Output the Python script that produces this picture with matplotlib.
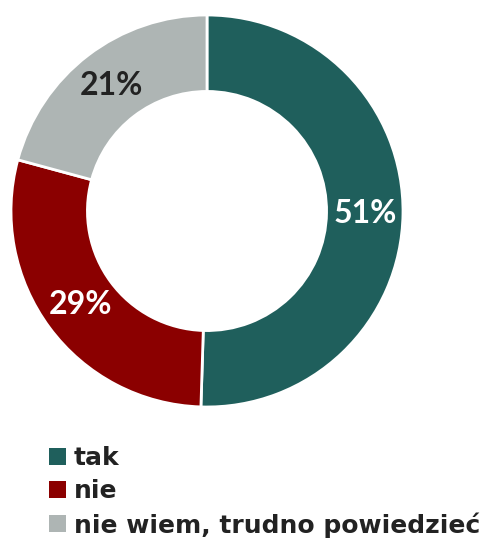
import matplotlib
matplotlib.use("Agg")
import matplotlib.pyplot as plt
from matplotlib.patches import Patch

categories = ["tak", "nie", "nie wiem, trudno powiedzieć"]
values = [51, 29, 21]
labels = ["51%", "29%", "21%"]
colors = ["#1f5f5c", "#8b0000", "#aeb5b4"]
label_colors = ["white", "white", "#222222"]

plt.rcParams['font.family'] = ['Lato', 'DejaVu Sans']

W, H = 482, 538
fig = plt.figure(figsize=(W / 100, H / 100), dpi=100)
ax = fig.add_axes([11 / W, 131 / H, 392 / W, 392 / H])
ax.set_xlim(-1, 1)
ax.set_ylim(-1, 1)
ax.set_aspect('equal')
ax.axis('off')

width = 0.39
wedges, texts = ax.pie(values, colors=colors, startangle=90, counterclock=False,
                       radius=1, labels=labels, labeldistance=1 - width / 2,
                       wedgeprops=dict(width=width, edgecolor='white', linewidth=2),
                       textprops=dict(fontsize=23, fontweight='bold', ha='center', va='center'))
for t, c in zip(texts, label_colors):
    t.set_color(c)
ax.set_xlim(-1, 1)
ax.set_ylim(-1, 1)

handles = [Patch(facecolor=c, edgecolor='none') for c in colors]
leg = fig.legend(handles, categories, loc='upper left', bbox_to_anchor=(49 / W, 1 - 446 / H),
                 frameon=False, handlelength=0.66, handleheight=0.66,
                 handletextpad=0.33, labelspacing=0.36, borderpad=0, borderaxespad=0,
                 prop=dict(family=['DejaVu Sans'], weight='bold', size=18))
for t in leg.get_texts():
    t.set_color('#222222')

fig.savefig("out.png", dpi=100)
